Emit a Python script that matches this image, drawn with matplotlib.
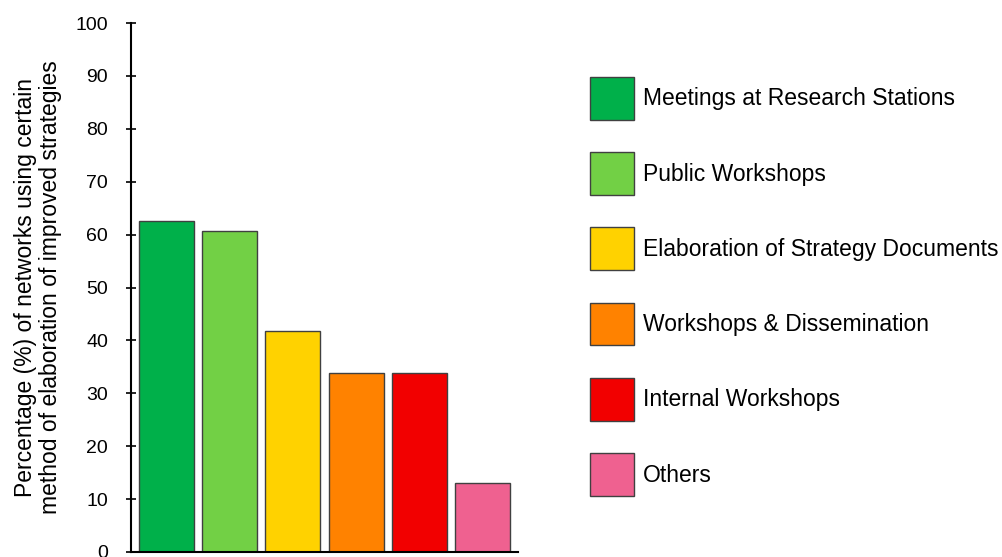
import matplotlib

matplotlib.use('Agg')

import matplotlib.pyplot as plt

plt.rcParams['font.family'] = ['Liberation Sans', 'DejaVu Sans']

# Share of networks per method of elaborating improved strategies (%)
categories = [
    'Meetings at Research Stations',
    'Public Workshops',
    'Elaboration of Strategy Documents',
    'Workshops & Dissemination',
    'Internal Workshops',
    'Others',
]
values = [62.5, 60.6, 41.7, 33.8, 33.8, 13.0]
colors = ['#00b04a', '#72d045', '#ffd200', '#ff8200', '#f20000', '#ef6190']
yticks = [0, 10, 20, 30, 40, 50, 60, 70, 80, 90, 100]

fig = plt.figure(figsize=(10.02, 5.57), dpi=100)
fig.patch.set_facecolor('white')
ax = fig.add_axes([131 / 1002, 1 - 552 / 557, 387 / 1002, 529 / 557])

bars = ax.bar(range(len(values)), values, width=0.87, color=colors,
              edgecolor='#404040', linewidth=1.0, label=categories)

ax.set_xlim(-0.56, len(values) - 0.44)
ax.set_ylim(0, 100)
ax.set_yticks(yticks)
ax.set_xticks([])
ax.tick_params(axis='y', direction='inout', length=7, width=1.2, labelsize=14, pad=13)
ax.spines[['top', 'right']].set_visible(False)
ax.spines[['left', 'bottom']].set_linewidth(1.5)
ax.spines[['left', 'bottom']].set_color('black')

ax.set_ylabel('Percentage (%) of networks using certain\nmethod of elaboration of improved strategies',
              fontsize=16.5, linespacing=1.1, labelpad=10)

fig.legend(handles=list(bars), labels=categories, loc='upper left',
           bbox_to_anchor=(590 / 1002, 1 - 77 / 557), bbox_transform=fig.transFigure,
           frameon=False, fontsize=16.5, handlelength=1.92, handleheight=2.49,
           labelspacing=1.42, handletextpad=0.39, borderpad=0, borderaxespad=0)

fig.savefig('out.png', dpi=100, facecolor='white')
